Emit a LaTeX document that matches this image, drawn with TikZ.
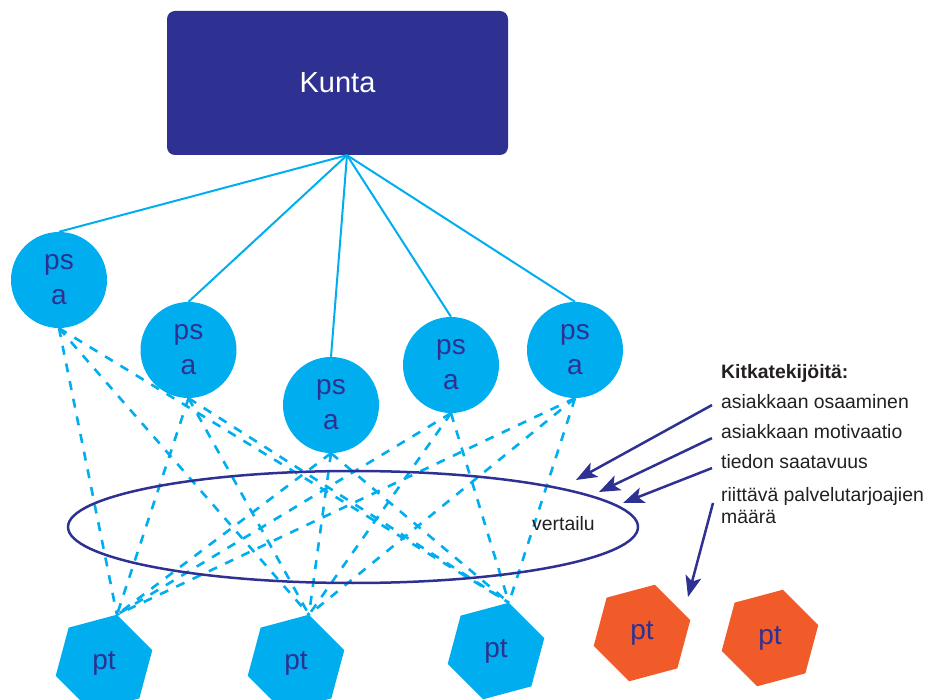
\documentclass[tikz,border=0pt]{standalone}
\usepackage{fontspec}
\setmainfont{Liberation Sans}
\usetikzlibrary{shapes.geometric,arrows.meta}
\definecolor{dblue}{HTML}{2E3192}
\definecolor{lblue}{HTML}{00AEEF}
\definecolor{orng}{HTML}{F15A29}
\definecolor{txtgray}{HTML}{231F20}
\newcommand{\hexat}[4]{%
  \fill[#4] (#2,#3) +(-15:50) -- +(-75:50) -- +(-135:50) -- +(-195:50) -- +(-255:50) -- +(-315:50) -- cycle;
  \node[hexlabel] (#1) at (#2,#3) {pt};
  \path (#2,#3) +(-75:50) coordinate (#1t);}
\begin{document}
\begin{tikzpicture}[x=1pt,y=-1pt,
  kuntabox/.style={rectangle, rounded corners=8pt, fill=dblue, minimum width=341pt, minimum height=144pt, inner sep=0pt, text=white, font=\fontsize{29}{35}\selectfont},
  psa/.style={circle, fill=lblue, minimum size=96pt, inner sep=0pt, text=dblue, align=center, font=\fontsize{28}{35}\selectfont},
  hexlabel/.style={inner sep=0pt, text=dblue, font=\fontsize{28}{34}\selectfont},
  treeline/.style={lblue, line width=2pt},
  dashline/.style={lblue, line width=2.6pt, dash pattern=on 9pt off 9pt},
  rim/.style={ellipse, draw=dblue, line width=2.5pt, minimum width=570pt, minimum height=112pt, inner sep=0pt},
  fric/.style={dblue, line width=2.5pt, -{Stealth[length=21pt,width=16pt,inset=5pt]}},
  side/.style={anchor=base west, inner sep=0pt, text=txtgray, font=\fontsize{19.4}{22}\selectfont},
]
\useasboundingbox (0,0) rectangle (927,700);
\clip (0,0) rectangle (927,700);
% Kunta
\node[kuntabox] (kunta) at (337.5,83) {Kunta};
\coordinate (apex) at ([xshift=9.5pt]kunta.south);
% ps a circles
\node[psa] (p1) at (59,280) {ps\\a};
\node[psa] (p2) at (188.5,350) {ps\\a};
\node[psa] (p3) at (331,405) {ps\\a};
\node[psa] (p4) at (451,365) {ps\\a};
\node[psa] (p5) at (575,350) {ps\\a};
\foreach \p in {p1,p2,p3,p4,p5} \draw[treeline] (apex) -- (\p.north);
% hexagons
\hexat{h1}{104}{663}{lblue}
\hexat{h2}{296}{663}{lblue}
\hexat{h3}{496}{651}{lblue}
\hexat{o1}{642}{633}{orng}
\hexat{o2}{770}{638}{orng}
% dashed links
\foreach \p in {p1,p2,p3,p4,p5}
  \foreach \h in {h1,h2,h3}
    \draw[dashline] (\p.south) -- (\h t);
% comparison ellipse
\node[rim] (ell) at (353,527) {};
\node[side] (vert) at (532,530) {vertailu};
% friction factors
\node[side, font=\fontsize{19.4}{22}\selectfont\bfseries] (t0) at (721,379) {Kitkatekijöitä:};
\node[side] (t1) at (721,409) {asiakkaan osaaminen};
\node[side] (t2) at (721,439) {asiakkaan motivaatio};
\node[side] (t3) at (721,469) {tiedon saatavuus};
\node[side] (t4) at (721,502) {riittävä palvelutarjoajien};
\node[side] (t5) at (721,524) {määrä};
\coordinate (f1) at (576,480);
\coordinate (f2) at (599,492);
\coordinate (f3) at (623,503);
\coordinate (f4) at (688,597);
\draw[fric] ([xshift=-9pt,yshift=-3pt]t1.west) -- (f1);
\draw[fric] ([xshift=-9pt,yshift=-6pt]t2.west) -- (f2);
\draw[fric] ([xshift=-9pt,yshift=-6pt]t3.west) -- (f3);
\draw[fric] ([xshift=-8pt,yshift=-6pt]t4.west) -- (f4);
\end{tikzpicture}
\end{document}
